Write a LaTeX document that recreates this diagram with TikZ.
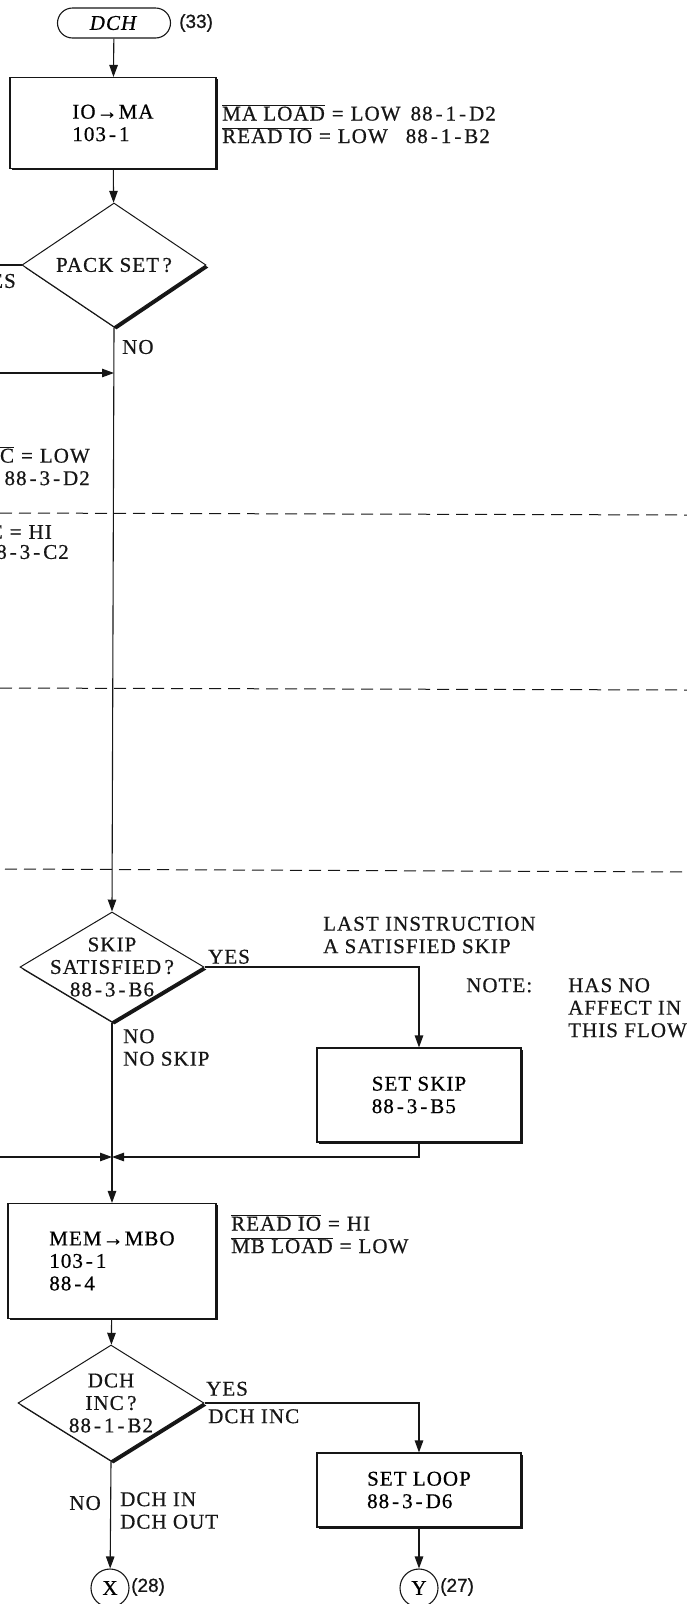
\documentclass[tikz,border=0pt]{standalone}
\usepackage{fontspec}
\setmainfont{Liberation Serif}[LetterSpace=5, FakeBold=0.6]
\newfontfamily\tagfont{Liberation Sans}[FakeBold=0.6]
\usepackage{tikz}
\usetikzlibrary{arrows.meta, positioning, shapes.geometric, shapes.misc, shadows}
\definecolor{cink}{HTML}{161616}
\newcommand{\ovl}[1]{$\overline{\mbox{#1}}$}
\newcommand{\dsh}{\kern3pt-\kern3pt}
\newcommand{\eq}{\hspace{7pt}=\hspace{7pt}}

\begin{document}
\begin{tikzpicture}[
  x=1pt, y=-1pt,
  font=\fontsize{21}{22.5}\selectfont,
  term/.style={rounded rectangle, draw=cink, line width=1.1pt, minimum width=113pt,
               minimum height=30pt, inner sep=0pt},
  proc/.style={rectangle, draw=cink, fill=white, line width=1.1pt, align=left, inner sep=0pt,
               drop shadow={shadow xshift=1.8pt, shadow yshift=-1.8pt, fill=cink, opacity=1}},
  test/.style={diamond, draw=cink, fill=white, line width=1pt, inner sep=0pt,
               drop shadow={shadow xshift=2.5pt, shadow yshift=-2.5pt, fill=cink, opacity=1}},
  conn/.style={circle, draw=cink, line width=1.1pt, minimum size=38pt, inner sep=0pt},
  txt/.style={text=cink, align=left, inner sep=0pt},
  tag/.style={text=cink, inner sep=0pt, font=\tagfont\fontsize{19}{22}\selectfont},
  flow/.style={-{Triangle[length=12pt, width=8.5pt]}, draw=cink, line width=1.1pt},
  wire/.style={draw=cink, line width=1.1pt},
  pagecut/.style={draw=cink, line width=1pt, dash pattern=on 12pt off 7pt}
]
\useasboundingbox (0,0) rectangle (687,1604);
\clip (0,0) rectangle (687,1604);

% top: entry and address load
\node[term] (start) at (114,23) {\textit{DCH}};
\node[tag, anchor=west] (tag33) at (179,23) {(33)};
\node[proc, minimum width=206pt, minimum height=91pt] (iomar) at (113,123) {IO→MA\\103\dsh1};
\node[txt, anchor=west] (sig1) at (222,124)
  {\ovl{MA LOAD}\eq LOW\hspace{10pt}88\dsh1\dsh D2\\\ovl{READ IO}\eq LOW\hspace{18pt}88\dsh1\dsh B2};
\node[test, minimum width=184pt, minimum height=124pt] (packq) at (114,265) {};
\node[txt, align=center] (packtxt) at (packq) {PACK SET\,?};
\node[txt, anchor=east] (yes1) at (16,281) {YES};
\node[txt, anchor=west] (no1) at (122,347) {NO};
\coordinate (yesout) at (-5,265);
\coordinate (fromleft1) at (-5,373);
\coordinate (join1) at (114,373);

% cut-off notes on the left
\node[txt, anchor=east, align=right] (lowc) at (90,466) {\ovl{C}\eq LOW\\88\dsh3\dsh D2};
\node[txt, anchor=east] (hic) at (52,532) {C\eq HI};
\node[txt, anchor=east] (hiref) at (69,552) {88\dsh3\dsh C2};

% page breaks
\coordinate (cutL1) at (0,513);  \coordinate (cutR1) at (687,515);
\coordinate (cutL2) at (0,688);  \coordinate (cutR2) at (687,690);
\coordinate (cutL3) at (5,869);  \coordinate (cutR3) at (687,872);
\draw[pagecut] (cutL1) -- (cutR1);
\draw[pagecut] (cutL2) -- (cutR2);
\draw[pagecut] (cutL3) -- (cutR3);

% skip test
\node[test, minimum width=184pt, minimum height=110pt] (skipq) at (112,967) {};
\node[txt, align=center] (skiptxt) at (skipq) {SKIP\\SATISFIED\,?\\88\dsh3\dsh B6};
\node[txt, anchor=south west] (yes2) at (208,964) {YES};
\node[txt, anchor=west] (lastnote) at (323,935) {LAST INSTRUCTION\\A SATISFIED SKIP};
\node[txt, anchor=north west] (notehead) at (466,978) {NOTE:};
\node[txt, anchor=north west] (notebody) at (568,978) {HAS NO\\AFFECT IN\\THIS FLOW};
\node[proc, minimum width=204pt, minimum height=94pt] (setskip) at (419,1095) {SET SKIP\\88\dsh3\dsh B5};
\node[txt, anchor=north west] (no2) at (123,1029) {NO\\NO SKIP};
\coordinate (join2) at (112,1157);
\coordinate (fromleft2) at (-5,1157);

% memory read
\node[proc, minimum width=208pt, minimum height=115pt] (mem) at (112,1261) {MEM→MBO\\103\dsh1\\88\dsh4};
\node[txt, anchor=west] (sig2) at (231,1234) {\ovl{READ IO}\eq HI\\\ovl{MB LOAD}\eq LOW};

% increment test
\node[test, minimum width=186pt, minimum height=116pt] (incq) at (111,1403) {};
\node[txt, align=center] (inctxt) at (incq) {DCH\\INC\,?\\88\dsh1\dsh B2};
\node[txt, anchor=south west] (yes3) at (206,1396) {YES};
\node[txt, anchor=north west] (dchinc) at (208,1409) {DCH INC};
\node[proc, minimum width=204pt, minimum height=74pt] (setloop) at (419,1490) {SET LOOP\\88\dsh3\dsh D6};
\node[txt, anchor=east] (no3) at (101,1503) {NO};
\node[txt, anchor=north west] (dchio) at (120,1492) {DCH IN\\DCH OUT};

% exits
\node[conn] (xcon) at (110,1588) {X};
\node[tag, anchor=west] (tag28) at (131,1587) {(28)};
\node[conn] (ycon) at (419,1588) {Y};
\node[tag, anchor=west] (tag27) at (440,1587) {(27)};

\draw[flow] (start) -- (iomar);
\draw[flow] (iomar) -- (packq);
\draw[wire] (packq.west) -- (yesout);
\draw[flow] (packq.south) -- (skipq.north);
\draw[flow] (fromleft1) -- (join1);
\draw[flow] (skipq.east) -| (setskip.north);
\draw[flow] (setskip.south) |- (join2);
\draw[flow] (fromleft2) -- (join2);
\draw[flow] (skipq.south) -- (mem.north);
\draw[flow] (mem) -- (incq);
\draw[flow] (incq.east) -| (setloop.north);
\draw[flow] (incq.south) -- (xcon);
\draw[flow] (setloop) -- (ycon);
\end{tikzpicture}
\end{document}
